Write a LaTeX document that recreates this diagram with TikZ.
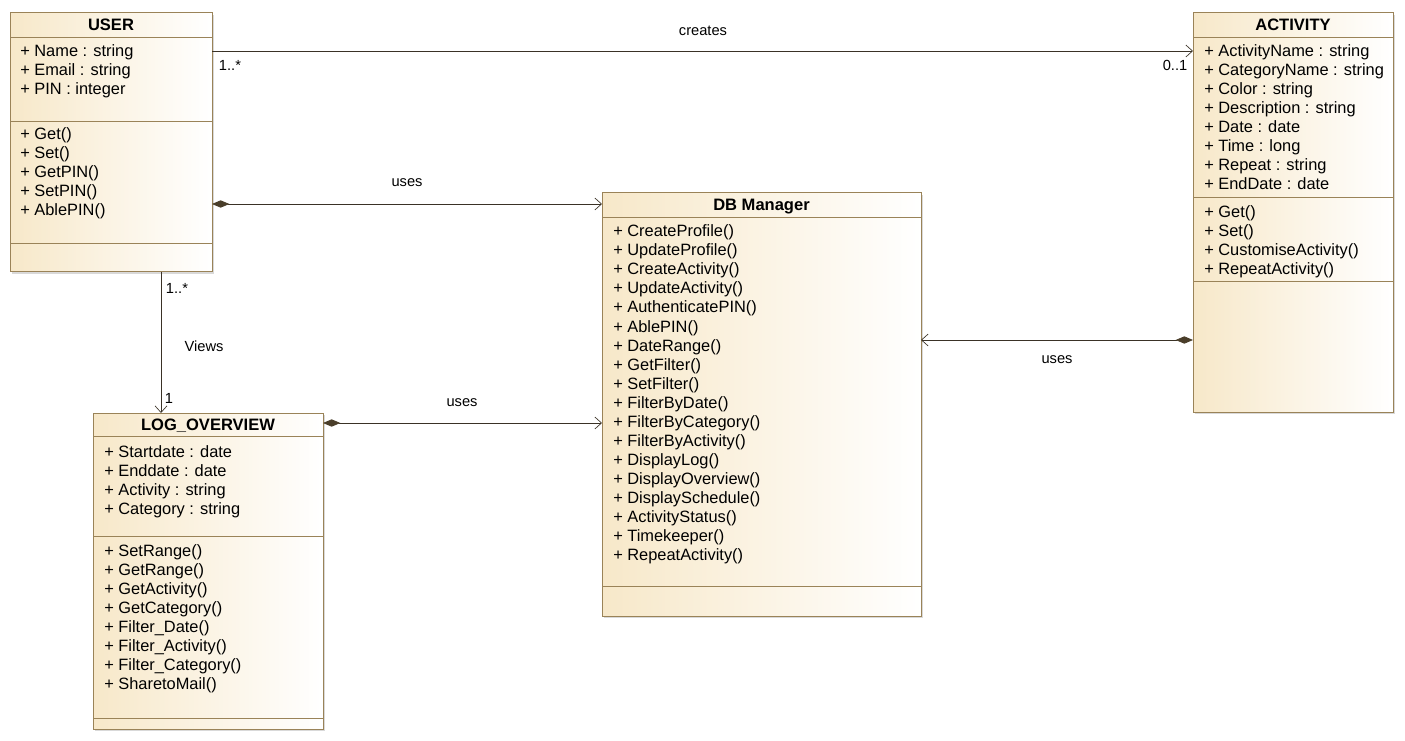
\documentclass[tikz,border=0pt]{standalone}
\usepackage{fontspec}
\setmainfont{Liberation Sans}
\usetikzlibrary{arrows.meta,shadows}
\definecolor{classfill}{HTML}{F7E8C9}
\definecolor{classborder}{HTML}{9A8358}
\definecolor{linkcol}{HTML}{3A3226}
\definecolor{diamcol}{HTML}{4A3E2A}
\tikzset{
  classbox/.style={draw=classborder, line width=0.75pt, left color=classfill, right color=white,
    anchor=north west, inner sep=0pt, outer sep=0pt,
    drop shadow={shadow xshift=1.2pt, shadow yshift=-1.2pt, opacity=0.3, fill=gray}},
  sepline/.style={draw=classborder, line width=0.6pt},
  member/.style={anchor=base west, inner sep=0pt, font=\fontsize{12.3}{14}\selectfont},
  title/.style={anchor=base, inner sep=0pt, font=\fontsize{12.4}{14}\selectfont\bfseries},
  lbl/.style={inner sep=0pt, font=\fontsize{11}{13}\selectfont},
  link/.style={draw=linkcol, line width=0.6pt},
  openhead/.style={-{Straight Barb[length=5pt,width=9pt,line width=0.5pt]}},
  comp/.style={{Diamond[length=13pt,width=5.5pt,fill=diamcol,color=diamcol]}-{Straight Barb[length=5pt,width=9pt,line width=0.5pt]}},
}
\begin{document}
\begin{tikzpicture}[x=0.75pt,y=-0.75pt]
\useasboundingbox (0,0) rectangle (1405,741);

% USER
\node[classbox, minimum width=202*0.75pt, minimum height=259*0.75pt] (user) at (10,13) {};
\draw[sepline] (10,37) -- (212,37);
\draw[sepline] (10,121) -- (212,121);
\draw[sepline] (10,243) -- (212,243);
\node[title] (usert) at (111,31) {USER};
\foreach \t [count=\i from 0] in {+ Name : string, + Email : string, + PIN : integer}
  \node[member] (ua\i) at (20,{57+19*\i}) {\t};
\foreach \t [count=\i from 0] in {+ Get(), + Set(), + GetPIN(), + SetPIN(), + AblePIN()}
  \node[member] (uo\i) at (20,{140+19*\i}) {\t};

% ACTIVITY
\node[classbox, minimum width=200*0.75pt, minimum height=399*0.75pt] (act) at (1193,13) {};
\draw[sepline] (1193,37) -- (1393,37);
\draw[sepline] (1193,197) -- (1393,197);
\draw[sepline] (1193,281) -- (1393,281);
\node[title] (actt) at (1293,31) {ACTIVITY};
\foreach \t [count=\i from 0] in {+ ActivityName : string, + CategoryName : string, + Color : string, + Description : string, + Date : date, + Time : long, + Repeat : string, + EndDate : date}
  \node[member] (aa\i) at (1204,{57+19*\i}) {\t};
\foreach \t [count=\i from 0] in {+ Get(), + Set(), + CustomiseActivity(), + RepeatActivity()}
  \node[member] (ao\i) at (1204,{218+18.7*\i}) {\t};

% DB MANAGER
\node[classbox, minimum width=319*0.75pt, minimum height=423*0.75pt] (db) at (602,193) {};
\draw[sepline] (602,217) -- (921,217);
\draw[sepline] (602,586) -- (921,586);
\node[title] (dbt) at (761.5,211) {DB Manager};
\foreach \t [count=\i from 0] in {+ CreateProfile(), + UpdateProfile(), + CreateActivity(), + UpdateActivity(), + AuthenticatePIN(), + AblePIN(), + DateRange(), + GetFilter(), + SetFilter(), + FilterByDate(), + FilterByCategory(), + FilterByActivity(), + DisplayLog(), + DisplayOverview(), + DisplaySchedule(), + ActivityStatus(), + Timekeeper(), + RepeatActivity()}
  \node[member] (do\i) at (613,{237+19*\i}) {\t};

% LOG_OVERVIEW
\node[classbox, minimum width=230*0.75pt, minimum height=316*0.75pt] (log) at (93,413) {};
\draw[sepline] (93,436) -- (323,436);
\draw[sepline] (93,536) -- (323,536);
\draw[sepline] (93,718) -- (323,718);
\node[title] (logt) at (208,430) {LOG\_OVERVIEW};
\foreach \t [count=\i from 0] in {+ Startdate : date, + Enddate : date, + Activity : string, + Category : string}
  \node[member] (la\i) at (104,{457+19*\i}) {\t};
\foreach \t [count=\i from 0] in {+ SetRange(), + GetRange(), + GetActivity(), + GetCategory(), + Filter\_Date(), + Filter\_Activity(), + Filter\_Category(), + SharetoMail()}
  \node[member] (lo\i) at (104,{556+19.1*\i}) {\t};

% Connectors
\coordinate (c1a) at (212,51);
\coordinate (c1b) at (1193,51);
\draw[link, openhead] (c1a) -- (c1b);
\node[lbl] (creates) at (703,31) {creates};
\node[lbl] (m1) at (230,65) {1..*};
\node[lbl] (m2) at (1175,65) {0..1};

\coordinate (c2a) at (212,204);
\coordinate (c2b) at (602,204);
\draw[link, comp] (c2a) -- (c2b);
\node[lbl] (uses1) at (407,183) {uses};

\coordinate (c3a) at (161,272);
\coordinate (c3b) at (161,413);
\draw[link, openhead] (c3a) -- (c3b);
\node[lbl] (m3) at (177,288) {1..*};
\node[lbl] (views) at (204,346) {Views};
\node[lbl] (m4) at (169,398) {1};

\coordinate (c4a) at (323,423);
\coordinate (c4b) at (602,423);
\draw[link, comp] (c4a) -- (c4b);
\node[lbl] (uses2) at (462,403) {uses};

\coordinate (c5a) at (1193,340);
\coordinate (c5b) at (921,340);
\draw[link, comp] (c5a) -- (c5b);
\node[lbl] (uses3) at (1057,360) {uses};
\end{tikzpicture}
\end{document}
